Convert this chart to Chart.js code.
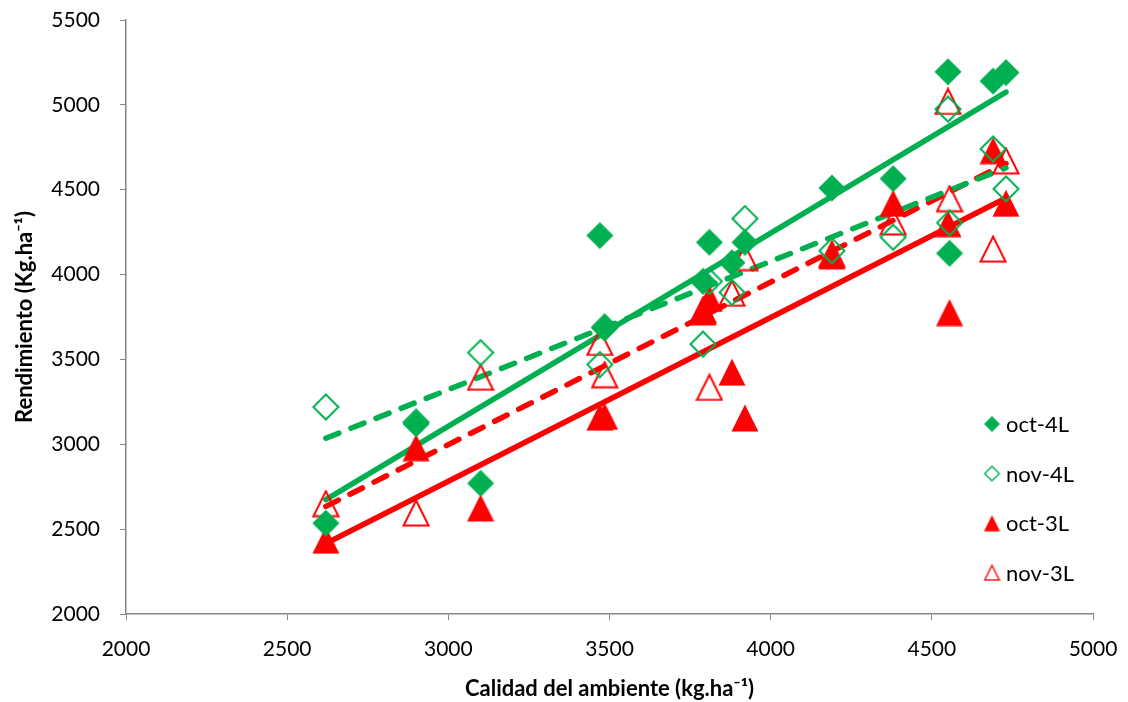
<!DOCTYPE html>
<html>
<head>
<meta charset="utf-8">
<script src="https://cdn.jsdelivr.net/npm/chart.js@4.4.1/dist/chart.umd.min.js"></script>
<style>
  html, body { margin: 0; padding: 0; background: #fff; }
  #wrap { width: 1128px; height: 702px; }
</style>
</head>
<body>
<div id="wrap"><canvas id="chart" width="1128" height="702"></canvas></div>
<script>
// Calidad del ambiente (x) shared by the four series
const ambiente = [2620, 2900, 3100, 3470, 3485, 3790, 3810, 3880, 3920, 4190, 4380, 4550, 4555, 4690, 4730];

// Rendimiento per series
const oct4L = [2535, 3120, 2770, 4230, 3685, 3960, 4190, 4070, 4190, 4510, 4565, 5195, 4125, 5140, 5190];
const nov4L = [3220, 3130, 3540, 3470, 3690, 3590, 3960, 3895, 4330, 4140, 4220, 4975, 4305, 4740, 4505];
const oct3L = [2435, 2980, 2625, 3160, 3165, 3780, 3860, 3425, 3155, 4110, 4420, 4300, 3776, 4730, 4420];
const nov3L = [2650, 2595, 3395, 3600, 3410, 3790, 3335, 3890, 4100, 4120, 4310, 5020, 4447, 4150, 4670];

const seriesNames = ['oct-4L', 'nov-4L', 'oct-3L', 'nov-3L'];

const GREEN = '#00B050';
const RED = '#FF0000';
const AXIS = '#868686';

// marker image, centred on the point like Excel markers
function marker(shape, filled, color, size) {
  const c = document.createElement('canvas');
  c.width = size; c.height = size;
  const g = c.getContext('2d');
  const lw = filled ? 0 : Math.max(1.4, size / 14);
  const m = filled ? 0.5 : lw / 2 + 0.5;
  g.beginPath();
  if (shape === 'diamond') {
    g.moveTo(size / 2, m);
    g.lineTo(size - m, size / 2);
    g.lineTo(size / 2, size - m);
    g.lineTo(m, size / 2);
  } else {
    g.moveTo(size / 2, m);
    g.lineTo(size - m, size - m);
    g.lineTo(m, size - m);
  }
  g.closePath();
  if (filled) {
    g.fillStyle = color;
    g.fill();
  } else {
    g.strokeStyle = color;
    g.lineWidth = lw;
    g.stroke();
  }
  return c;
}

// least squares line between min and max x (Excel linear trendline)
function trend(xs, ys) {
  const n = xs.length;
  const mx = xs.reduce((a, b) => a + b, 0) / n;
  const my = ys.reduce((a, b) => a + b, 0) / n;
  let sxy = 0, sxx = 0;
  for (let i = 0; i < n; i++) {
    sxy += (xs[i] - mx) * (ys[i] - my);
    sxx += (xs[i] - mx) * (xs[i] - mx);
  }
  const b = sxy / sxx, a = my - b * mx;
  const x0 = Math.min(...xs), x1 = Math.max(...xs);
  return [{ x: x0, y: a + b * x0 }, { x: x1, y: a + b * x1 }];
}

const pts = ys => ambiente.map((x, i) => ({ x, y: ys[i] }));

const styles = [
  { shape: 'diamond', filled: true,  color: GREEN, dash: [] },
  { shape: 'diamond', filled: false, color: GREEN, dash: [14, 13] },
  { shape: 'triangle', filled: true,  color: RED, dash: [] },
  { shape: 'triangle', filled: false, color: RED, dash: [14, 13] },
];
const values = [oct4L, nov4L, oct3L, nov3L];

const legendMarkers = styles.map(s => marker(s.shape, s.filled, s.color, 17));

const legendBox = {
  id: 'legendBox',
  afterDraw(chart) {
    const { ctx, chartArea } = chart;
    const x = chartArea.right - 101;
    const y0 = chartArea.bottom - 190;
    ctx.save();
    ctx.font = '22px Lato';
    ctx.fillStyle = '#000';
    ctx.textBaseline = 'middle';
    seriesNames.forEach((name, i) => {
      const y = y0 + i * 49.6;
      const img = legendMarkers[i];
      ctx.drawImage(img, x - img.width / 2, y - img.height / 2);
      ctx.fillText(name, x + 14, y + 1);
    });
    ctx.restore();
  }
};

const plain = v => String(v);

function draw() {
  const pointSets = styles.map((s, i) => ({
    label: seriesNames[i],
    data: pts(values[i]),
    pointStyle: marker(s.shape, s.filled, s.color, 28),
    pointRadius: 2,
    pointBorderWidth: 0,
    borderWidth: 0,
    clip: false,
    showLine: false,
  }));
  const trendSets = styles.map((s, i) => ({
    label: seriesNames[i] + ' tendencia',
    data: trend(ambiente, values[i]),
    showLine: true,
    pointRadius: 0,
    borderColor: s.color,
    borderWidth: 5.5,
    borderDash: s.dash,
    borderCapStyle: 'round',
    clip: false,
    fill: false,
  }));

  new Chart(document.getElementById('chart'), {
    type: 'scatter',
    data: { datasets: pointSets.concat(trendSets) },
    options: {
      responsive: false,
      animation: false,
      devicePixelRatio: 1,
      layout: { padding: { left: 10, right: 35, top: 20, bottom: 0 } },
      plugins: {
        legend: { display: false },
        tooltip: { enabled: false },
      },
      scales: {
        x: {
          type: 'linear',
          min: 2000, max: 5000,
          ticks: { stepSize: 500, callback: plain, color: '#000', font: { family: 'Lato', size: 21 }, padding: 17 },
          grid: { drawOnChartArea: false, drawTicks: true, tickLength: 6, tickColor: AXIS },
          border: { color: AXIS, width: 1.5 },
          title: {
            display: true,
            text: 'Calidad del ambiente (kg.ha⁻¹)',
            color: '#000',
            font: { family: 'Lato', size: 22, weight: 'bold' },
            padding: { top: 4, bottom: 0 },
          },
          afterFit: s => { s.height = 88; s.paddingLeft = 0; s.paddingRight = 0; },
        },
        y: {
          type: 'linear',
          min: 2000, max: 5500,
          ticks: { stepSize: 500, callback: plain, color: '#000', font: { family: 'Lato', size: 21 }, padding: 20 },
          grid: { drawOnChartArea: false, drawTicks: true, tickLength: 6, tickColor: AXIS },
          border: { color: AXIS, width: 1.5 },
          title: {
            display: true,
            text: 'Rendimiento (Kg.ha⁻¹)',
            color: '#000',
            font: { family: 'Lato', size: 22, weight: 'bold' },
            padding: { top: 2, bottom: 2 },
          },
          afterFit: s => { s.width = 116; s.paddingTop = 0; s.paddingBottom = 0; },
        },
      },
    },
    plugins: [legendBox],
  });
}

Promise.all([
  document.fonts.load('21px Lato'),
  document.fonts.load('bold 22px Lato'),
]).then(draw, draw);
</script>
</body>
</html>
